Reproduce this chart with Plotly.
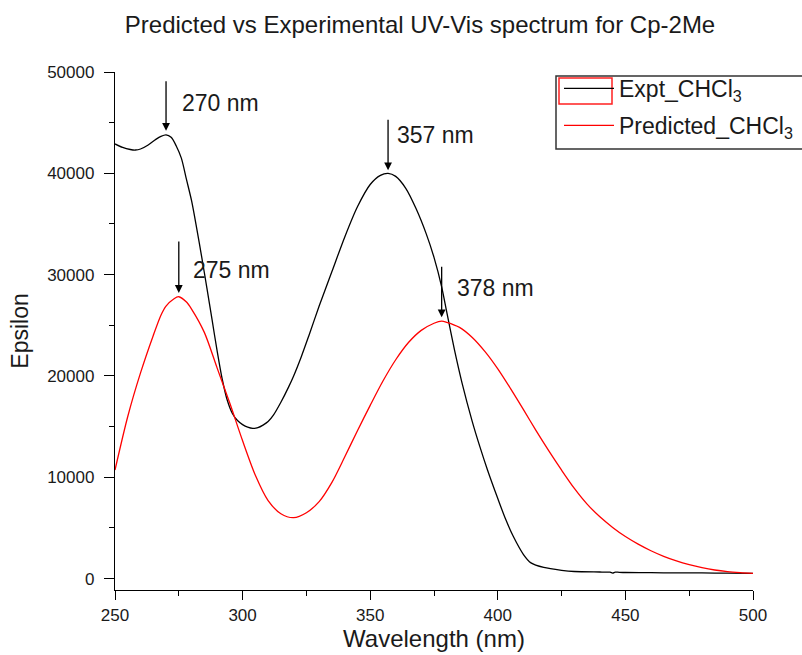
import plotly.graph_objects as go

# ---- data ----
expt_nm = [250, 253, 256, 258, 260, 263, 266, 268, 270, 272, 274, 276, 278, 280, 282, 284, 286, 288,
           290, 292, 294, 296, 298, 300, 302, 304, 306, 308, 310, 312, 315, 318, 320, 323, 326, 330,
           335, 340, 345, 350, 354, 357, 360, 364, 368, 372, 375, 378, 380, 383, 386, 390, 393, 396,
           400, 403, 406, 410, 413, 418, 425, 430, 440, 444, 445, 446, 447, 450, 460, 470, 480, 490, 500]
expt_eps = [42900, 42550, 42350, 42300, 42400, 42800, 43350, 43650, 43800, 43550, 42700, 41500, 39400,
            37300, 34600, 31700, 28700, 25600, 22500, 19700, 17600, 16300, 15600, 15200, 14950, 14830,
            14900, 15150, 15500, 16100, 17400, 18900, 20000, 21900, 24000, 26900, 30300, 33700, 36700,
            38900, 39800, 40000, 39700, 38500, 36500, 34000, 31700, 28800, 26300, 22600, 19300, 15500,
            13000, 10700, 7900, 5900, 4200, 2400, 1550, 1100, 820, 700, 650, 630, 540, 640, 630, 600,
            580, 570, 560, 540, 520]

pred_nm = [250, 255, 260, 265, 268, 270, 273, 275, 278, 280, 285, 290, 295, 300, 305, 310, 315, 320,
           325, 330, 335, 340, 345, 350, 355, 360, 365, 370, 375, 378, 380, 385, 390, 395, 400, 405,
           410, 415, 420, 425, 430, 435, 440, 445, 450, 455, 460, 465, 470, 475, 480, 485, 490, 495, 500]
pred_eps = [10720, 16000, 20300, 24000, 26000, 26900, 27600, 27820, 27300, 26600, 24300, 20800, 17300,
            13600, 10200, 7700, 6400, 6010, 6500, 7600, 9500, 12000, 14600, 17100, 19500, 21600, 23300,
            24500, 25200, 25420, 25300, 24800, 23800, 22400, 20700, 18750, 16700, 14600, 12600, 10700,
            8900, 7350, 6100, 5050, 4150, 3400, 2750, 2200, 1750, 1380, 1080, 850, 690, 590, 520]

peak_nm = [270, 275, 357, 378]
peak_tip = [44200, 28200, 40300, 25800]
peak_labels = ["270 nm", "275 nm", "357 nm", "378 nm"]

FONT = "Arial, Liberation Sans, sans-serif"
TXT = "#1a1a1a"

fig = go.Figure()
fig.add_trace(go.Scatter(x=expt_nm, y=expt_eps, mode="lines", name="Expt_CHCl<sub>3</sub>",
                         legendgroup="expt",
                         line=dict(color="#000000", width=1.3, shape="spline", smoothing=0.8)))
fig.add_trace(go.Scatter(x=pred_nm, y=pred_eps, mode="lines", name="Predicted_CHCl<sub>3</sub>",
                         legendgroup="pred",
                         line=dict(color="#ff0000", width=1.3, shape="spline", smoothing=0.8)))

# label placement relative to each arrow tip (pixels)
label_dx = [14, 12, 7, 13]
label_dy = [28, 23, 35, 29]
arrow_len = [51, 53, 52, 52]

annotations = []
for i, (nm, tip, lab) in enumerate(zip(peak_nm, peak_tip, peak_labels)):
    annotations.append(dict(x=nm, y=tip, xref="x", yref="y", text="", showarrow=True,
                            ax=0, ay=-arrow_len[i], arrowhead=2, arrowsize=1.2, arrowwidth=1.3,
                            arrowcolor="#000000"))
    annotations.append(dict(x=nm, y=tip, xref="x", yref="y", text=lab, showarrow=False,
                            xanchor="left", yanchor="middle", xshift=label_dx[i], yshift=label_dy[i],
                            font=dict(family=FONT, size=23, color=TXT)))


def px_x(p):
    return (p - 115) / 638


def px_y(p):
    return (590 - p) / 518


fig.update_layout(
    width=802, height=655,
    margin=dict(l=115, r=49, t=72, b=65, autoexpand=False),
    paper_bgcolor="white", plot_bgcolor="white",
    title=dict(text="Predicted vs Experimental UV-Vis spectrum for Cp-2Me",
               x=420 / 802, xanchor="center", xref="container", y=1 - 25 / 655, yanchor="middle",
               font=dict(family=FONT, size=24, color=TXT)),
    showlegend=True,
    legend=dict(x=px_x(559), y=px_y(67), xanchor="left", yanchor="top",
                borderwidth=0, bgcolor="rgba(255,255,255,0)",
                font=dict(family=FONT, size=23, color=TXT),
                traceorder="grouped", itemwidth=50, tracegroupgap=4),
    annotations=annotations,
    shapes=[
        # legend frame
        dict(type="rect", xref="paper", yref="paper",
             x0=px_x(556), x1=px_x(815), y0=px_y(149), y1=px_y(76),
             line=dict(color="#333333", width=1.5), fillcolor="rgba(0,0,0,0)"),
        # red frame round the first legend sample
        dict(type="rect", xref="paper", yref="paper",
             x0=px_x(559), x1=px_x(612), y0=px_y(104), y1=px_y(78),
             line=dict(color="#ff2020", width=1.5), fillcolor="rgba(0,0,0,0)"),
    ],
)
fig.update_xaxes(range=[250, 500], dtick=50, tick0=250, showgrid=False, zeroline=False,
                 showline=True, linecolor="#000000", linewidth=1.3,
                 ticks="outside", ticklen=9, tickwidth=1.2, tickcolor="#000000",
                 minor=dict(dtick=25, ticks="outside", ticklen=5, tickcolor="#000000", tickwidth=1.2),
                 tickfont=dict(family=FONT, size=17, color=TXT),
                 title=dict(text="Wavelength (nm)", standoff=6,
                            font=dict(family=FONT, size=24, color=TXT)))
fig.update_yaxes(range=[-1125, 50000], dtick=10000, tick0=0, tickformat="d",
                 showgrid=False, zeroline=False,
                 showline=True, linecolor="#000000", linewidth=1.3,
                 ticks="outside", ticklen=10, tickwidth=1.2, tickcolor="#000000",
                 minor=dict(dtick=5000, ticks="outside", ticklen=5, tickcolor="#000000", tickwidth=1.2),
                 ticklabelstandoff=6,
                 tickfont=dict(family=FONT, size=17, color=TXT),
                 title=dict(text="Epsilon", standoff=12,
                            font=dict(family=FONT, size=23, color=TXT)))

fig.write_html("out.html")
